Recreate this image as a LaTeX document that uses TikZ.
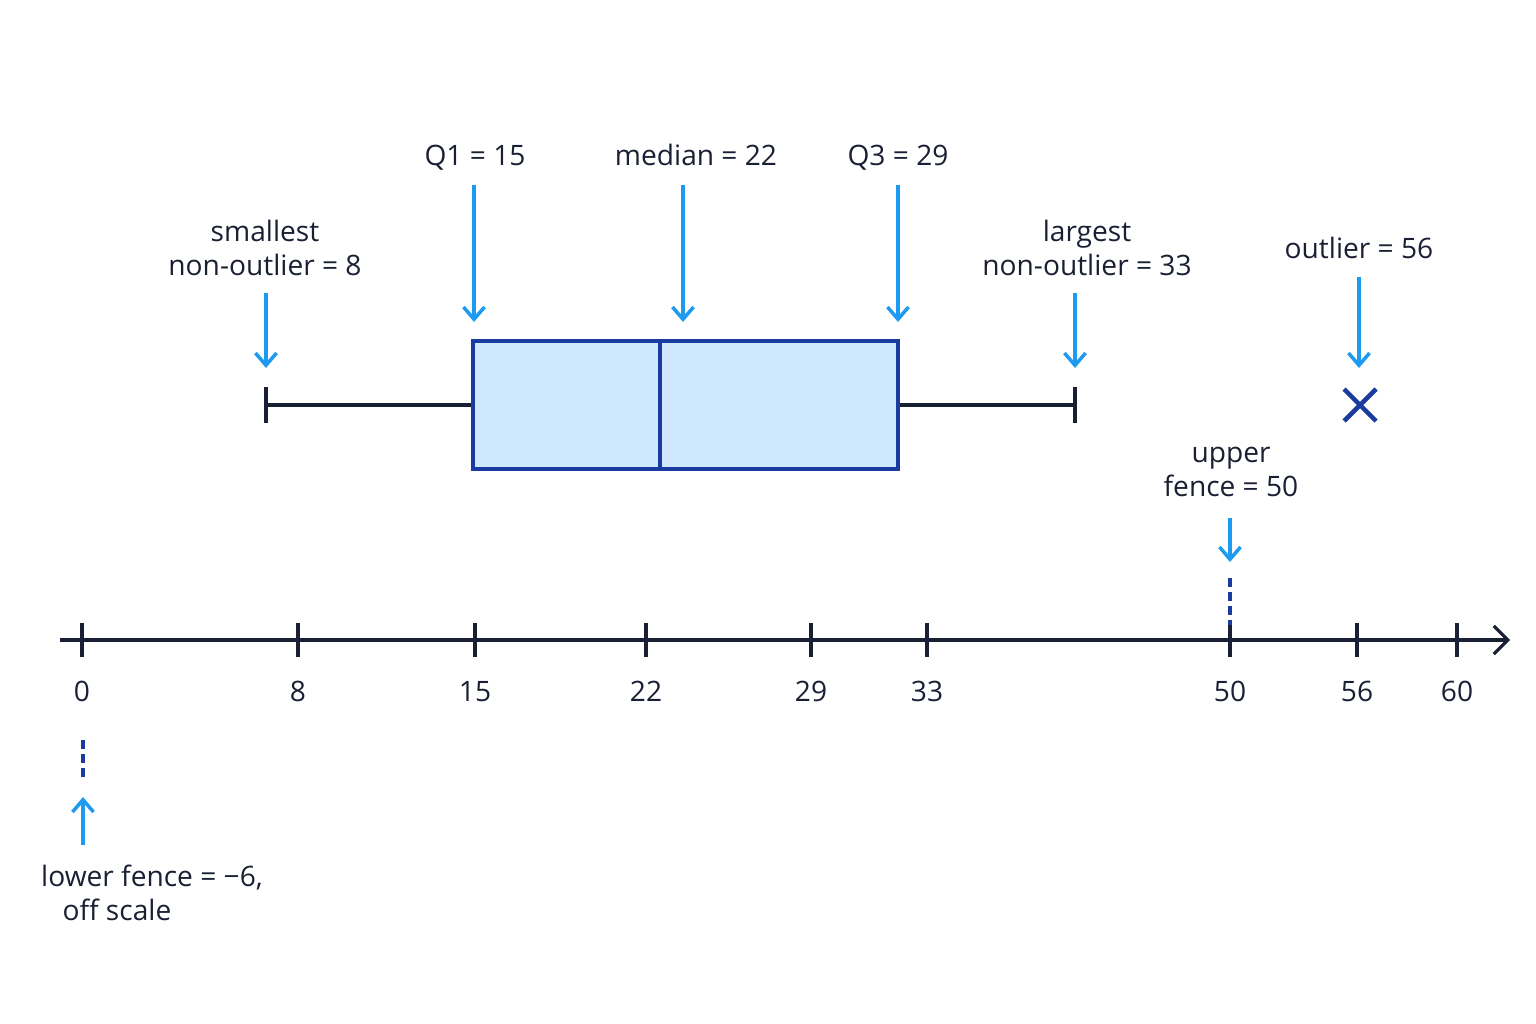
\documentclass[tikz,border=0pt]{standalone}
\usepackage{fontspec}
\setmainfont{Open Sans}[FontFace={m}{n}{Open Sans Medium}]
\usetikzlibrary{arrows.meta,positioning}
\definecolor{pointer}{HTML}{1E9BF0}
\definecolor{boxfill}{HTML}{D0E8FB}
\definecolor{boxline}{HTML}{1A3BA0}
\definecolor{ink}{HTML}{1A2033}
\tikzset{
  lbl/.style={font=\fontsize{8}{9.6}\selectfont,text=ink,align=center,inner sep=0pt,text depth=0pt},
  ptr/.style={draw=pointer,line width=1pt,-{Straight Barb[length=3.5pt,width=6pt]}},
  fence/.style={draw=boxline,line width=1.1pt,dash pattern=on 2.5pt off 1.5pt},
  tick/.style={draw=ink,line width=0.9pt}
}
\begin{document}
\begin{tikzpicture}[x=0.01cm,y=-0.01cm]
  \useasboundingbox (0,0) rectangle (1536,1024);

  % axis
  \coordinate (A0) at (60,640);
  \coordinate (A1) at (1510,640);
  \draw[ink,line width=0.9pt,-{Straight Barb[length=4pt,width=8pt]}] (A0) -- (A1);
  \foreach \x/\v in {82/0,298/8,475/15,646/22,811/29,927/33,1230/50,1357/56,1457/60}{%
    \coordinate (T\v) at (\x,640);
    \draw[tick] (\x,623) -- (\x,657);
    \node[lbl] (L\v) at (\x,691) {\v};
  }

  % box and whiskers
  \coordinate (W0) at (266,405);
  \coordinate (W1) at (1075,405);
  \draw[ink,line width=0.9pt] (W0) -- (473,405) (898,405) -- (W1);
  \draw[ink,line width=0.9pt] (266,387) -- (266,423) (1075,387) -- (1075,423);
  \draw[boxline,fill=boxfill,line width=1pt] (473,341) rectangle (898,469);
  \draw[boxline,line width=1pt] (660,341) -- (660,469);
  \node (out) at (1360,405) {};
  \draw[boxline,line width=1.3pt] (1344,389) -- (1376,421) (1344,421) -- (1376,389);

  % labels
  \node[lbl] (q1) at (475,155) {Q1 = 15};
  \node[lbl] (med) at (696,155) {median = 22};
  \node[lbl] (q3) at (898,155) {Q3 = 29};
  \node[lbl] (sm) at (265,248) {smallest\\non-outlier = 8};
  \node[lbl] (lg) at (1087,248) {largest\\non-outlier = 33};
  \node[lbl] (ol) at (1359,248) {outlier = 56};
  \node[lbl] (uf) at (1231,472) {upper\\fence = 50};
  \node[lbl] (lf) at (152,876) {lower fence = −6,};
  \node[lbl] (lf2) at (117,910) {off scale};

  % pointers
  \draw[ptr] (474,185) -- (474,322);
  \draw[ptr] (683,185) -- (683,322);
  \draw[ptr] (898,185) -- (898,322);
  \draw[ptr] (266,293) -- (266,368);
  \draw[ptr] (1075,293) -- (1075,368);
  \draw[ptr] (1359,277) -- (1359,368);
  \draw[ptr] (1230,518) -- (1230,562);
  \draw[fence] (1230,578) -- (1230,625);
  \draw[fence] (83,740) -- (83,782);
  \draw[ptr] (83,845) -- (83,797);
\end{tikzpicture}
\end{document}
